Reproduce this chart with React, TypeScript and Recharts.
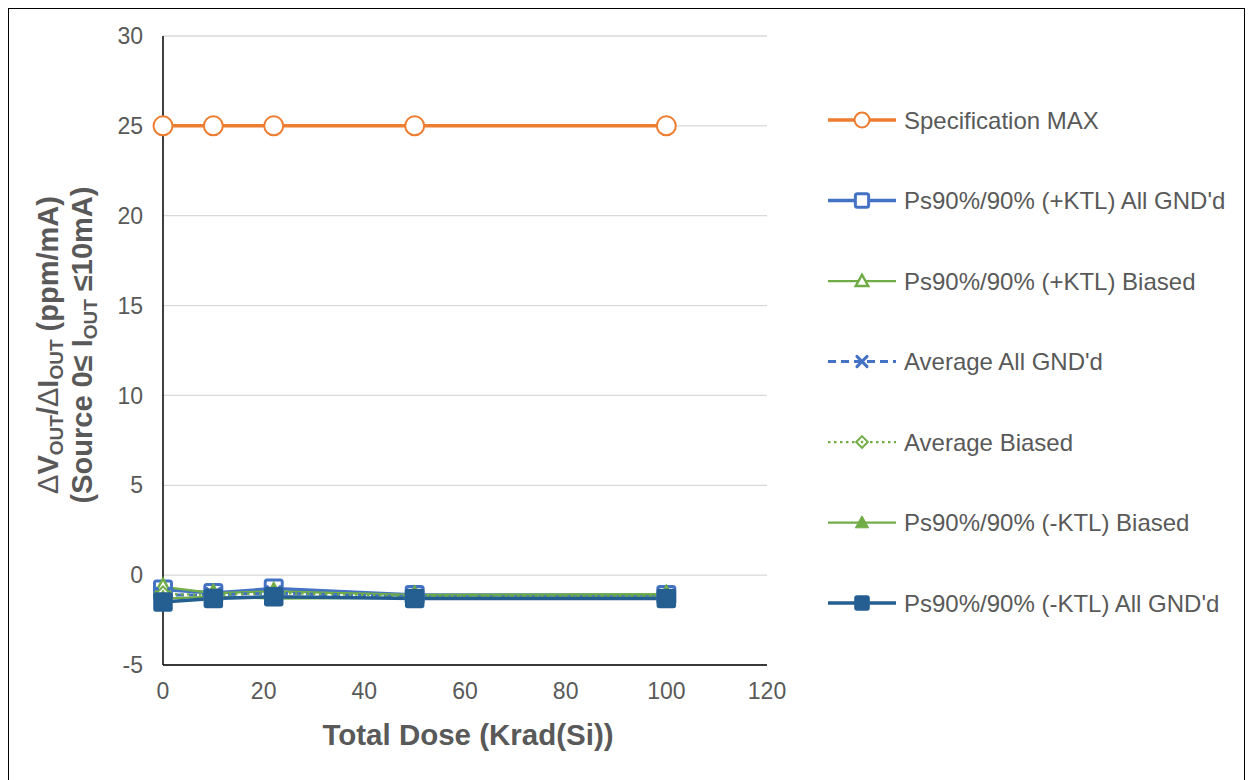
import React from 'react';
import { LineChart, Line, XAxis, YAxis, CartesianGrid, Legend, Label } from 'recharts';

const doses = [0, 10, 22, 50, 100];
const specMax = [25, 25, 25, 25, 25];
const plusKtlGnd = [-0.8, -1.0, -0.75, -1.1, -1.1];
const plusKtlBiased = [-0.65, -1.0, -0.9, -1.1, -1.05];
const avgGnd = [-1.1, -1.1, -1.0, -1.2, -1.2];
const avgBiased = [-1.05, -1.1, -1.0, -1.15, -1.15];
const minusKtlBiased = [-1.3, -1.2, -1.3, -1.25, -1.25];
const minusKtlGnd = [-1.5, -1.3, -1.2, -1.3, -1.3];

const xTicks = [0, 20, 40, 60, 80, 100, 120];
const yTicks = [-5, 0, 5, 10, 15, 20, 25, 30];

const seriesNames = [
  'Specification MAX',
  'Ps90%/90% (+KTL) All GND\'d',
  'Ps90%/90% (+KTL) Biased',
  'Average All GND\'d',
  'Average Biased',
  'Ps90%/90% (-KTL) Biased',
  'Ps90%/90% (-KTL) All GND\'d',
];

const data = doses.map((d, i) => ({
  dose: d,
  s0: specMax[i],
  s1: plusKtlGnd[i],
  s2: plusKtlBiased[i],
  s3: avgGnd[i],
  s4: avgBiased[i],
  s5: minusKtlBiased[i],
  s6: minusKtlGnd[i],
}));

const ORANGE = '#ED7D31';
const BLUE = '#4472C4';
const GREEN = '#70AD47';
const DARKBLUE = '#255E91';
const FONT = '"Liberation Sans", Arial, sans-serif';
const TEXT = '#595959';

type Kind = 'circle' | 'squareOpen' | 'triOpen' | 'x' | 'diamond' | 'triFilled' | 'squareFilled';

const styles: { key: string; color: string; width: number; dash?: string; kind: Kind }[] = [
  { key: 's0', color: ORANGE, width: 3.5, kind: 'circle' },
  { key: 's1', color: BLUE, width: 3.5, kind: 'squareOpen' },
  { key: 's2', color: GREEN, width: 2.25, kind: 'triOpen' },
  { key: 's3', color: BLUE, width: 3, dash: '8 5', kind: 'x' },
  { key: 's4', color: GREEN, width: 2.25, dash: '2.5 3.5', kind: 'diamond' },
  { key: 's5', color: GREEN, width: 2.25, kind: 'triFilled' },
  { key: 's6', color: DARKBLUE, width: 3.5, kind: 'squareFilled' },
];

function Marker({ kind, cx, cy, color, k = 1 }: { kind: Kind; cx: number; cy: number; color: string; k?: number }) {
  if (cx == null || cy == null || isNaN(cx) || isNaN(cy)) return null;
  switch (kind) {
    case 'circle':
      return <circle cx={cx} cy={cy} r={9.5 * k} fill="#fff" stroke={color} strokeWidth={2} />;
    case 'squareOpen': {
      const h = 8.5 * k;
      return <rect x={cx - h} y={cy - h} width={2 * h} height={2 * h} rx={2} fill="#fff" stroke={color} strokeWidth={3} />;
    }
    case 'squareFilled': {
      const h = 9 * k;
      return <rect x={cx - h} y={cy - h} width={2 * h} height={2 * h} rx={2} fill={color} stroke={color} strokeWidth={1.5} />;
    }
    case 'triOpen': {
      const h = 8 * k;
      return (
        <polygon
          points={`${cx},${cy - h} ${cx + h},${cy + h * 0.8} ${cx - h},${cy + h * 0.8}`}
          fill="#fff"
          stroke={color}
          strokeWidth={2.5}
        />
      );
    }
    case 'triFilled': {
      const h = 8.5 * k;
      return (
        <polygon
          points={`${cx},${cy - h} ${cx + h},${cy + h * 0.8} ${cx - h},${cy + h * 0.8}`}
          fill={color}
          stroke={color}
          strokeWidth={1}
        />
      );
    }
    case 'x': {
      const h = 6.5 * k;
      return (
        <g stroke={color} strokeWidth={3} strokeLinecap="round">
          <line x1={cx - h} y1={cy - h} x2={cx + h} y2={cy + h} />
          <line x1={cx - h} y1={cy + h} x2={cx + h} y2={cy - h} />
        </g>
      );
    }
    case 'diamond': {
      const h = 7.5 * k;
      return (
        <g>
          <polygon
            points={`${cx},${cy - h} ${cx + h},${cy} ${cx},${cy + h} ${cx - h},${cy}`}
            fill="#fff"
            stroke={color}
            strokeWidth={2}
          />
          <circle cx={cx} cy={cy} r={1.3} fill={color} />
        </g>
      );
    }
  }
  return null;
}

const LegendContent = () => (
  <svg width={420} height={560} style={{ overflow: 'visible' }}>
    {styles.map((s, i) => {
      const y = 30 + i * 80.5;
      return (
        <g key={s.key}>
          <line x1={0} y1={y} x2={68} y2={y} stroke={s.color} strokeWidth={s.width} strokeDasharray={s.dash} />
          <Marker kind={s.kind} cx={34} cy={y} color={s.color} k={0.78} />
          <text x={76} y={y} dominantBaseline="central" fill={TEXT} fontSize={24} fontFamily={FONT}>
            {seriesNames[i]}
          </text>
        </g>
      );
    })}
  </svg>
);

const YLabel = () => (
  <g fill={TEXT} fontWeight="bold" fontSize={29} fontFamily={FONT}>
    <text transform="translate(49, 336) rotate(-90)" textAnchor="middle">
      <tspan fontWeight="normal">Δ</tspan>
      <tspan>V</tspan>
      <tspan fontSize={19} dy={5}>OUT</tspan>
      <tspan dy={-5}>/</tspan>
      <tspan fontWeight="normal">Δ</tspan>
      <tspan>I</tspan>
      <tspan fontSize={19} dy={5}>OUT</tspan>
      <tspan dy={-5}> (ppm/mA)</tspan>
    </text>
    <text transform="translate(83, 336) rotate(-90)" textAnchor="middle">
      <tspan>(Source 0≤ I</tspan>
      <tspan fontSize={19} dy={5}>OUT</tspan>
      <tspan dy={-5}> ≤10mA)</tspan>
    </text>
  </g>
);

const XLabel = (props: any) => {
  const vb = props.viewBox || { x: 154, width: 604 };
  return (
    <text
      x={vb.x + vb.width / 2 + 3}
      y={736}
      textAnchor="middle"
      fill={TEXT}
      fontWeight="bold"
      fontSize={29.5}
      fontFamily={FONT}
    >
      Total Dose (Krad(Si))
    </text>
  );
};

export default function App() {
  return (
    <div style={{ width: 1235, height: 780, border: '1px solid #000', background: '#fff', position: 'relative' }}>
      <LineChart
        width={1235}
        height={780}
        data={data}
        margin={{ top: 27, right: 477, bottom: 0, left: 0 }}
        style={{ fontFamily: FONT }}
      >
        <CartesianGrid vertical={false} stroke="#d9d9d9" strokeWidth={1.3} />
        <XAxis
          type="number"
          dataKey="dose"
          domain={[0, 120]}
          ticks={xTicks}
          interval={0}
          height={124}
          tickLine={false}
          tickSize={0}
          tickMargin={18}
          axisLine={{ stroke: '#000', strokeWidth: 1.5 }}
          tick={{ fill: TEXT, fontSize: 23, fontFamily: FONT }}
        >
          <Label content={XLabel} />
        </XAxis>
        <YAxis
          type="number"
          domain={[-5, 30]}
          ticks={yTicks}
          interval={0}
          width={154}
          tickLine={false}
          tickSize={0}
          tickMargin={20}
          axisLine={{ stroke: '#000', strokeWidth: 1.5 }}
          tick={{ fill: TEXT, fontSize: 23, fontFamily: FONT }}
        >
          <Label content={YLabel} />
        </YAxis>
        <Legend
          layout="horizontal"
          verticalAlign="middle"
          align="center"
          content={LegendContent}
          wrapperStyle={{ left: 819, top: 81, width: 420, height: 560 }}
        />
        {styles.map((s, i) => (
          <Line
            key={s.key}
            type="linear"
            dataKey={s.key}
            name={seriesNames[i]}
            stroke={s.color}
            strokeWidth={s.width}
            strokeDasharray={s.dash}
            isAnimationActive={false}
            dot={(p: any) => <Marker key={`${s.key}-${p.index}`} kind={s.kind} cx={p.cx} cy={p.cy} color={s.color} />}
            activeDot={false}
          />
        ))}
      </LineChart>
    </div>
  );
}
